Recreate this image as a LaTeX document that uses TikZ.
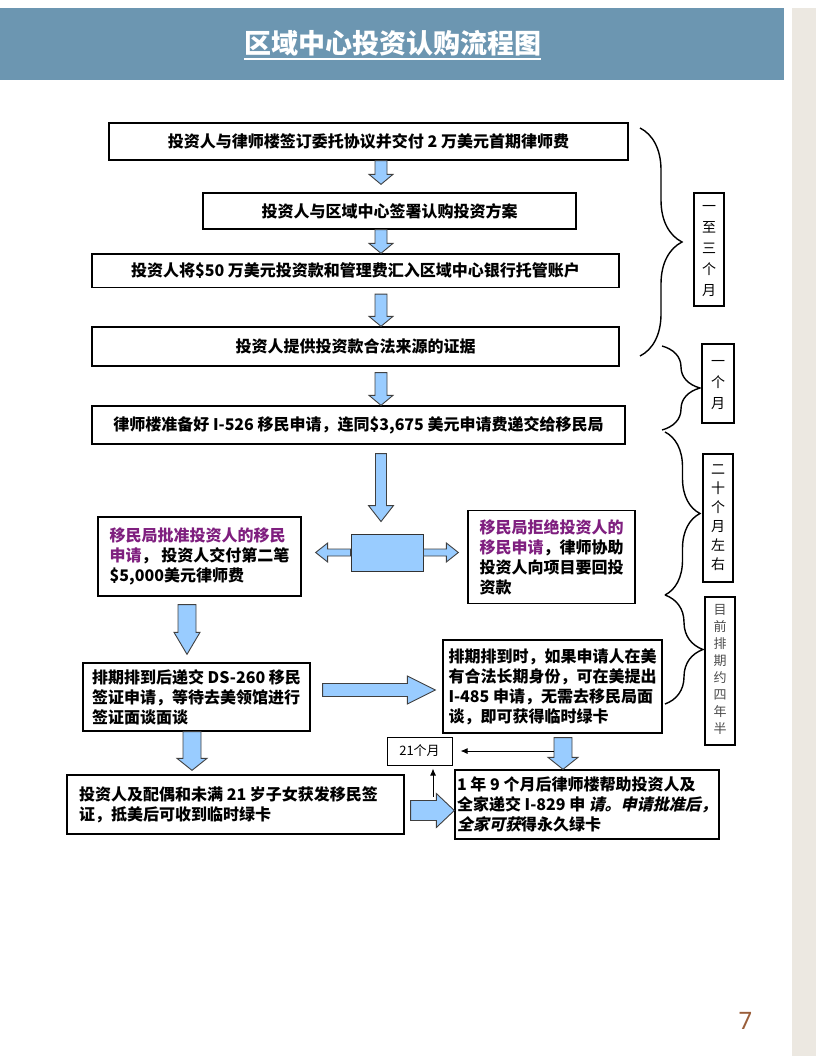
\documentclass[tikz,border=0pt]{standalone}
\usepackage{fontspec}
\setmainfont{Noto Sans CJK SC}
\newfontfamily\slantcjk[FakeSlant=0.22]{Noto Sans CJK SC}
\newfontfamily\numfont{Noto Sans}
\usetikzlibrary{calc,decorations.pathreplacing,arrows.meta}

\definecolor{titlebar}{HTML}{6C96B1}
\definecolor{sidestrip}{HTML}{ECE8E1}
\definecolor{arrowblue}{HTML}{99CCFF}
\definecolor{purp}{HTML}{7F1F7F}
\definecolor{pagebrown}{HTML}{9A5E3A}

\newcommand{\slanted}[1]{{\slantcjk\bfseries #1}}

% block arrows: from, to, half shaft, half head, head length
\newcommand{\blkdown}[5]{%
  \filldraw[blockarrow] let \p1=(#1), \p2=(#2) in
    (\x1-#3,\y1) -- (\x1+#3,\y1) -- (\x1+#3,\y2+#5) -- (\x1+#4,\y2+#5)
    -- (\x1,\y2) -- (\x1-#4,\y2+#5) -- (\x1-#3,\y2+#5) -- cycle;}
\newcommand{\blkright}[5]{%
  \filldraw[blockarrow] let \p1=(#1), \p2=(#2) in
    (\x1,\y1+#3) -- (\x2-#5,\y1+#3) -- (\x2-#5,\y1+#4) -- (\x2,\y1)
    -- (\x2-#5,\y1-#4) -- (\x2-#5,\y1-#3) -- (\x1,\y1-#3) -- cycle;}
\newcommand{\blkleft}[5]{%
  \filldraw[blockarrow] let \p1=(#1), \p2=(#2) in
    (\x1,\y1+#3) -- (\x2+#5,\y1+#3) -- (\x2+#5,\y1+#4) -- (\x2,\y1)
    -- (\x2+#5,\y1-#4) -- (\x2+#5,\y1-#3) -- (\x1,\y1-#3) -- cycle;}

\begin{document}
\begin{tikzpicture}[x=1pt,y=-1pt,
  box/.style={draw,rectangle,line width=1.3pt,inner sep=2pt,font=\bfseries\fontsize{16}{20}\selectfont},
  tallbox/.style={box,align=left},
  sidebox/.style={draw,rectangle,line width=1.2pt,inner sep=1pt,font=\fontsize{14}{21}\selectfont},
  blockarrow/.style={fill=arrowblue,draw=black!75,line width=0.9pt},
  thinarrow/.style={-{Latex[length=7pt,width=6pt]},line width=1pt},
  bracedeco/.style={decorate,line width=1.4pt}]
\useasboundingbox (0,0) rectangle (816,1056);

% page furniture
\fill[titlebar] (0,8) rectangle (784,80);
\fill[sidestrip] (792,8) rectangle (816,1056);
\node[text=white,inner sep=0pt,font=\bfseries\fontsize{27}{30}\selectfont] (title) at (392.5,43) {区域中心投资认购流程图};
\draw[white,line width=1.5pt] ($(title.south west)+(0,3)$) -- ($(title.south east)+(0,3)$);
\node[text=pagebrown,font=\numfont\fontsize{24}{26}\selectfont] (pnum) at (745.5,1020.5) {7};

% main steps
\node[box,minimum width=519,minimum height=37] (b1) at (368.5,141.5) {投资人与律师楼签订委托协议并交付 2 万美元首期律师费};
\node[box,minimum width=373,minimum height=36] (b2) at (389.5,211) {投资人与区域中心签署认购投资方案};
\node[box,minimum width=527,minimum height=33.5] (b3) at (355.5,270.75) {投资人将\$50 万美元投资款和管理费汇入区域中心银行托管账户};
\node[box,minimum width=527,minimum height=39] (b4) at (355.5,346.5) {投资人提供投资款合法来源的证据};
\node[box,minimum width=533,minimum height=38] (b5) at (358.5,425) {律师楼准备好 I-526 移民申请，连同\$3,675 美元申请费递交给移民局};

\node[draw=black!80,fill=arrowblue,line width=0.9pt,minimum width=72,minimum height=37] (hub) at (387,552.5) {};
\node[tallbox,minimum width=203,minimum height=79] (approve) at (199.5,556.5)
  {\textcolor{purp}{移民局批准投资人的移民}\\\textcolor{purp}{申请}， 投资人交付第二笔\\\$5,000美元律师费};
\node[tallbox,minimum width=167,minimum height=93] (reject) at (551.5,557)
  {\textcolor{purp}{移民局拒绝投资人的}\\\textcolor{purp}{移民申请}，律师协助\\投资人向项目要回投\\资款};
\node[tallbox,minimum width=227,minimum height=68] (ds) at (196.5,697)
  {排期排到后递交 DS-260 移民\\签证申请，等待去美领馆进行\\签证面谈面谈};
\node[tallbox,minimum width=219,minimum height=93] (i485) at (552.5,686.5)
  {排期排到时，如果申请人在美\\有合法长期身份，可在美提出\\I-485 申请，无需去移民局面\\谈，即可获得临时绿卡};
\node[draw,line width=1pt,minimum width=65,minimum height=28,font=\fontsize{13}{15}\selectfont] (m21) at (419.5,751) {21个月};
\node[tallbox,minimum width=337,minimum height=59] (visa) at (235.5,804.5)
  {投资人及配偶和未满 21 岁子女获发移民签\hspace{14pt}\mbox{}\\证，抵美后可收到临时绿卡};
\node[tallbox,minimum width=264,minimum height=69] (i829) at (587,804.5)
  {1 年 9 个月后律师楼帮助投资人及\\全家递交 I-829 申 \slanted{请。申请批准后，}\\\slanted{全家可获}得永久绿卡};

% time spans
\node[sidebox,minimum width=30,minimum height=113] (span1) at (709,249.5)
  {\begin{tabular}{c} 一\\至\\三\\个\\月 \end{tabular}};
\node[sidebox,minimum width=32,minimum height=79] (span2) at (718,383.5)
  {\begin{tabular}{c} 一\\个\\月 \end{tabular}};
\node[sidebox,minimum width=30,minimum height=128,font=\fontsize{14}{19}\selectfont] (span3) at (718,518)
  {\begin{tabular}{c} 二\\十\\个\\月\\左\\右 \end{tabular}};
\node[sidebox,minimum width=30,minimum height=148,text=black!70,font=\fontsize{13}{17}\selectfont] (span4) at (720,671)
  {\begin{tabular}{c} 目\\前\\排\\期\\约\\四\\年\\半 \end{tabular}};

\draw[bracedeco,decoration={brace,amplitude=42pt}] (640,128) -- (640,356);
\draw[bracedeco,decoration={brace,amplitude=38pt}] (662,346) -- (662,430);
\draw[bracedeco,decoration={brace,amplitude=35pt}] (665,432) -- (665,595);
\draw[bracedeco,decoration={brace,amplitude=38pt}] (665,595) -- (665,704);

% arrows
\coordinate (ax) at (381,0);
\coordinate (lx) at (187,0);
\coordinate (lx2) at (192,0);
\coordinate (rx) at (563,0);
\blkdown{ax |- b1.south}{$(ax |- b2.north)+(0,-8)$}{6pt}{12pt}{10pt}
\blkdown{ax |- b2.south}{ax |- b3.north}{6pt}{12pt}{10pt}
\blkdown{$(ax |- b3.south)+(0,6)$}{ax |- b4.north}{6pt}{12pt}{10pt}
\blkdown{$(ax |- b4.south)+(0,6)$}{ax |- b5.north}{6pt}{12pt}{10pt}
\blkdown{$(ax |- b5.south)+(0,9)$}{$(ax |- hub.north)+(0,-12)$}{5.5pt}{12.5pt}{16pt}
\blkleft{hub.west}{$(hub.west -| approve.east)+(14,0)$}{3.5pt}{9.5pt}{12pt}
\blkright{hub.east}{$(hub.east -| reject.west)+(-9,0)$}{3.5pt}{9.5pt}{12pt}
\blkdown{$(lx |- approve.south)+(0,8)$}{$(lx |- ds.north)+(0,-8)$}{9pt}{13pt}{22pt}
\blkright{$(ds.east)+(12,-7)$}{$(ds.east -| i485.west)+(-7,-7)$}{6.5pt}{14pt}{28pt}
\blkdown{lx2 |- ds.south}{$(lx2 |- visa.north)+(0,-4)$}{9pt}{15pt}{12pt}
\blkdown{$(rx |- i485.south)+(0,4)$}{rx |- i829.north}{9pt}{15pt}{12pt}
\blkright{$(visa.east)+(6,6)$}{$(visa.east -| i829.west)+(0,6)$}{10pt}{17pt}{18pt}

\coordinate (t1) at (554,751);
\coordinate (t2) at (433,797);
\draw[thinarrow,shorten >=8pt] (t1) -- (m21.east |- t1);
\draw[thinarrow,shorten >=3pt] (t2) -- (m21.south -| t2);
\end{tikzpicture}
\end{document}
